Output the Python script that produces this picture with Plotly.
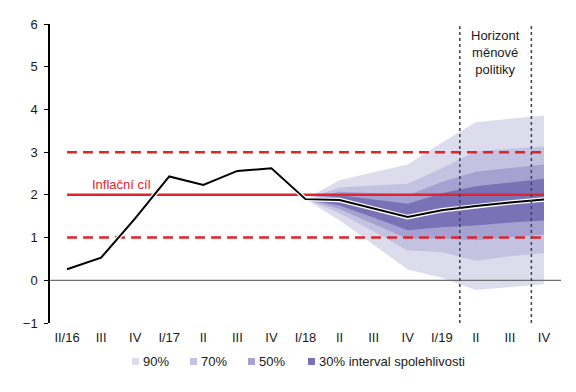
import plotly.graph_objects as go

# ---------------- data ----------------
quarters = ["II/16", "III", "IV", "I/17", "II", "III", "IV", "I/18",
            "II", "III", "IV", "I/19", "II", "III", "IV"]
inflation = [0.26, 0.53, 1.45, 2.43, 2.23, 2.56, 2.62, 1.90,
             1.88, 1.68, 1.48, 1.64, 1.74, 1.82, 1.89]

fan_start = 7  # index of I/18, where the fan begins
upper_90 = [1.90, 2.34, 2.53, 2.71, 3.22, 3.70, 3.78, 3.86]
lower_90 = [1.90, 1.40, 0.83, 0.25, 0.06, -0.23, -0.16, -0.09]
upper_70 = [1.90, 2.17, 2.22, 2.26, 2.62, 3.02, 3.08, 3.13]
lower_70 = [1.90, 1.57, 1.14, 0.70, 0.66, 0.46, 0.56, 0.64]
upper_50 = [1.90, 2.07, 2.04, 1.99, 2.30, 2.54, 2.63, 2.71]
lower_50 = [1.90, 1.67, 1.32, 0.97, 0.98, 0.94, 1.01, 1.07]
upper_30 = [1.90, 1.99, 1.89, 1.79, 2.04, 2.20, 2.29, 2.38]
lower_30 = [1.90, 1.75, 1.47, 1.17, 1.24, 1.28, 1.35, 1.40]

band_labels = ["90%", "70%", "50%", "30% interval spolehlivosti"]
band_colors = ["#dcdced", "#c3c2e0", "#a5a2d1", "#7a72b7"]

target = 2.0
tolerance_band = [1.0, 3.0]
target_label = "Inflační cíl"
horizon_text = "Horizont<br>měnové<br>politiky"
horizon_bounds = [11.53, 13.63]

FONT = "Liberation Sans, Arial, sans-serif"
RED = "#e0242c"

# page body has an 8px margin: the figure is sized so that it fills the window
OFF = 8
W, H = 576 - OFF, 392 - OFF
L, R, T, B = 50 - OFF, 15, 24 - OFF, 69
pw, ph = W - L - R, H - T - B

# ---------------- figure ----------------
fig = go.Figure()
xs = list(range(len(quarters)))
fan_x = xs[fan_start:]

bands = [(upper_90, lower_90), (upper_70, lower_70),
         (upper_50, lower_50), (upper_30, lower_30)]
for (up, lo), col, lab in zip(bands, band_colors, band_labels):
    fig.add_trace(go.Scatter(
        x=fan_x + fan_x[::-1], y=up + lo[::-1],
        fill="toself", fillcolor=col, mode="none",
        line=dict(width=0), name=lab, showlegend=False, hoverinfo="skip"))

# inflation target and tolerance band
fig.add_trace(go.Scatter(x=[xs[0], xs[-1]], y=[target, target], mode="lines",
                         line=dict(color=RED, width=2.5), showlegend=False))
for b in tolerance_band:
    fig.add_trace(go.Scatter(x=[xs[0], xs[-1]], y=[b, b], mode="lines",
                             line=dict(color=RED, width=2.5, dash="10px,6px"),
                             showlegend=False))

# inflation line with white halo
fig.add_trace(go.Scatter(x=xs, y=inflation, mode="lines",
                         line=dict(color="white", width=4.5), showlegend=False))
fig.add_trace(go.Scatter(x=xs, y=inflation, mode="lines",
                         line=dict(color="black", width=2), showlegend=False))

# zero line above the fan
fig.add_shape(type="line", xref="paper", x0=0, x1=1, yref="y", y0=0, y1=0,
              line=dict(color="#6f6f6f", width=1.3), layer="above")
# monetary policy horizon
for hb in horizon_bounds:
    fig.add_shape(type="line", xref="x", x0=hb, x1=hb, yref="y", y0=-1, y1=6,
                  line=dict(color="#3e3e55", width=1.5, dash="3px,3px"),
                  layer="above")

fig.add_annotation(x=sum(horizon_bounds) / 2, y=5.33, text=horizon_text,
                   showarrow=False, font=dict(family=FONT, size=13, color="#1a1a1a"),
                   xanchor="center", yanchor="middle")
fig.add_annotation(x=1.61, y=2.24, text=target_label, showarrow=False,
                   font=dict(family=FONT, size=13, color=RED),
                   xanchor="center", yanchor="middle")


def px2paper(px, py):
    # px, py are window coordinates of the reference picture
    return (px - OFF - L) / pw, (H - B - (py - OFF)) / ph


legend_text_x = [141, 199, 257, 317]
legend_y = 361.5
for lab, col, tx in zip(band_labels, band_colors, legend_text_x):
    x0, y0 = px2paper(tx - 9, legend_y + 3.5)
    x1, y1 = px2paper(tx - 2, legend_y - 3.5)
    fig.add_shape(type="rect", xref="paper", yref="paper", x0=x0, x1=x1,
                  y0=y0, y1=y1, fillcolor=col, line=dict(width=0))
    ax, ay = px2paper(tx, legend_y)
    fig.add_annotation(xref="paper", yref="paper", x=ax, y=ay, text=lab,
                       showarrow=False, xanchor="left", yanchor="middle",
                       font=dict(family=FONT, size=13, color="#1a1a1a"))

fig.update_layout(
    width=W, height=H,
    margin=dict(l=L, r=R, t=T, b=B, autoexpand=False),
    paper_bgcolor="white", plot_bgcolor="white",
    font=dict(family=FONT, size=13, color="#1a1a1a"),
    showlegend=False,
    xaxis=dict(range=[-0.5, 14.5], tickmode="array", tickvals=xs, ticktext=quarters,
               showgrid=False, zeroline=False, showline=False, ticks="",
               ticklabelstandoff=5, tickfont=dict(size=13, color="#1a1a1a")),
    yaxis=dict(range=[-1, 6], dtick=1, showgrid=False, zeroline=False,
               showline=True, linecolor="black", linewidth=1.5,
               ticks="outside", ticklen=4, tickcolor="black", tickwidth=1.2,
               ticklabelstandoff=4, tickfont=dict(size=13, color="#1a1a1a")),
)

fig.write_html("out.html")
